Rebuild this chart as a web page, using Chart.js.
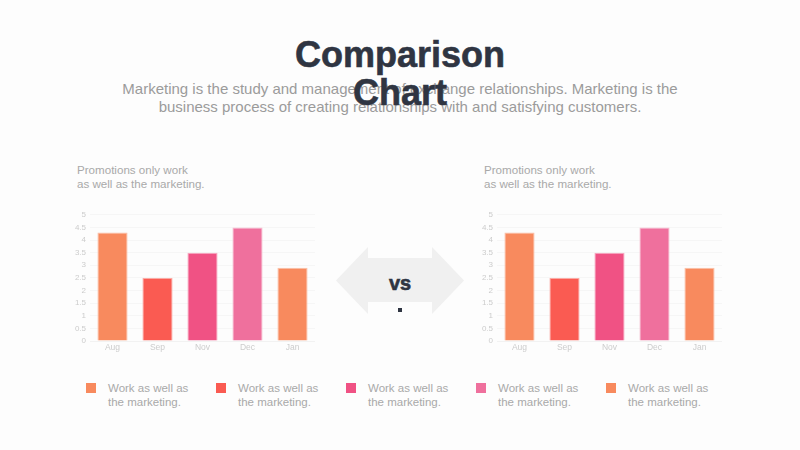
<!DOCTYPE html>
<html>
<head>
<meta charset="utf-8">
<script src="https://cdn.jsdelivr.net/npm/chart.js@4.4.1/dist/chart.umd.min.js"></script>
<style>
  html, body { margin: 0; padding: 0; }
  body { width: 800px; height: 450px; background: #fdfdfd; position: relative; overflow: hidden;
         font-family: "Liberation Sans", Arial, Helvetica, sans-serif; }
  .title { position: absolute; left: 280px; top: 36px; width: 240px; text-align: center;
           font-weight: bold; font-size: 36px; line-height: 38px; color: #2f3542; z-index: 2;
           -webkit-text-stroke: 0.6px #2f3542; }
  .lead { position: absolute; left: 100px; top: 80px; width: 600px; text-align: center;
          font-size: 15px; line-height: 18px; color: #9b9b9b; z-index: 1; }
  .note { position: absolute; top: 163px; font-size: 11.6px; line-height: 14px; color: #a9a9a9; }
  .box { position: absolute; top: 206px; width: 255px; height: 152px; }
  .vs { position: absolute; left: 336px; top: 247px; width: 128px; height: 67px; }
  .legend { position: absolute; top: 381px; font-size: 11.5px; line-height: 14px; color: #a9a9a9; }
  .legend span { position: absolute; left: 0; top: 2px; width: 10px; height: 10px; }
  .legend div { position: absolute; left: 22px; top: 0; width: 110px; }
</style>
</head>
<body>
<div class="title">Comparison Chart</div>
<div class="lead">Marketing is the study and management of exchange relationships. Marketing is the<br>business process of creating relationships with and satisfying customers.</div>

<div class="note" style="left:77px">Promotions only work<br>as well as the marketing.</div>
<div class="note" style="left:484px">Promotions only work<br>as well as the marketing.</div>

<div class="box" style="left:60px"><canvas id="chart1"></canvas></div>
<div class="box" style="left:467px"><canvas id="chart2"></canvas></div>

<svg class="vs" viewBox="336 247 128 67">
  <polygon points="336,280.5 368,247 368,258 432,258 432,247 464,280.5 432,314 432,302 368,302 368,314" fill="#f0f0f0"/>
  <text x="400" y="290" text-anchor="middle" font-family="Liberation Sans, Arial, sans-serif" font-weight="bold" font-size="20" fill="#2f3542" stroke="#2f3542" stroke-width="0.6">vs</text>
  <rect x="398" y="308" width="4" height="4" fill="#2f3542"/>
</svg>

<div id="legend"></div>

<script>
var months = ["Aug", "Sep", "Nov", "Dec", "Jan"];
var values1 = [4.3, 2.5, 3.5, 4.5, 2.9];
var values2 = [4.3, 2.5, 3.5, 4.5, 2.9];
var yTicks = [0, 0.5, 1, 1.5, 2, 2.5, 3, 3.5, 4, 4.5, 5];
var barColors = ["#f88a5e", "#fa5b52", "#f05284", "#ef709d", "#f88a5e"];
var borderColors = ["#fbc0a8", "#fcaaa4", "#f7a8c0", "#f6bccf", "#fbc0a8"];
var legendText = ["Work as well as<br>the marketing.", "Work as well as<br>the marketing.",
                  "Work as well as<br>the marketing.", "Work as well as<br>the marketing.",
                  "Work as well as<br>the marketing."];

function makeConfig(values) {
    return {
        type: 'bar',
        data: {
            labels: months,
            datasets: [{
                data: values,
                backgroundColor: barColors,
                borderColor: borderColors,
                borderWidth: 1,
                categoryPercentage: 1,
                barPercentage: 0.67
            }]
        },
        options: {
            responsive: true,
            maintainAspectRatio: false,
            animation: false,
            layout: { padding: { top: 6, right: 0, left: 0, bottom: 0 } },
            plugins: { legend: { display: false }, tooltip: { enabled: false } },
            scales: {
                x: {
                    grid: { display: false, drawTicks: false },
                    border: { display: true, color: '#f2f2f2' },
                    ticks: { color: '#cccccc', font: { size: 8.5, family: 'Liberation Sans' }, padding: 2 },
                    afterFit: function (s) { s.height = 17; }
                },
                y: {
                    min: 0, max: 5,
                    afterBuildTicks: function (s) {
                        s.ticks = yTicks.map(function (v) { return { value: v }; });
                    },
                    ticks: {
                        autoSkip: false,
                        color: '#cccccc', font: { size: 8, family: 'Liberation Sans' }, padding: 4,
                        callback: function (v) { return String(v); }
                    },
                    grid: { color: '#f6f6f6', drawTicks: false },
                    border: { display: false },
                    afterFit: function (s) { s.width = 30; }
                }
            }
        }
    };
}

var myChart = new Chart(document.getElementById('chart1'), makeConfig(values1));
var myChart2 = new Chart(document.getElementById('chart2'), makeConfig(values2));

var legend = document.getElementById('legend');
var html = '';
for (var i = 0; i < legendText.length; i++) {
    html += '<div class="legend" style="left:' + (86 + i * 130) + 'px"><span style="background:' + barColors[i] +
            '"></span><div>' + legendText[i] + '</div></div>';
}
legend.innerHTML = html;
</script>
</body>
</html>
